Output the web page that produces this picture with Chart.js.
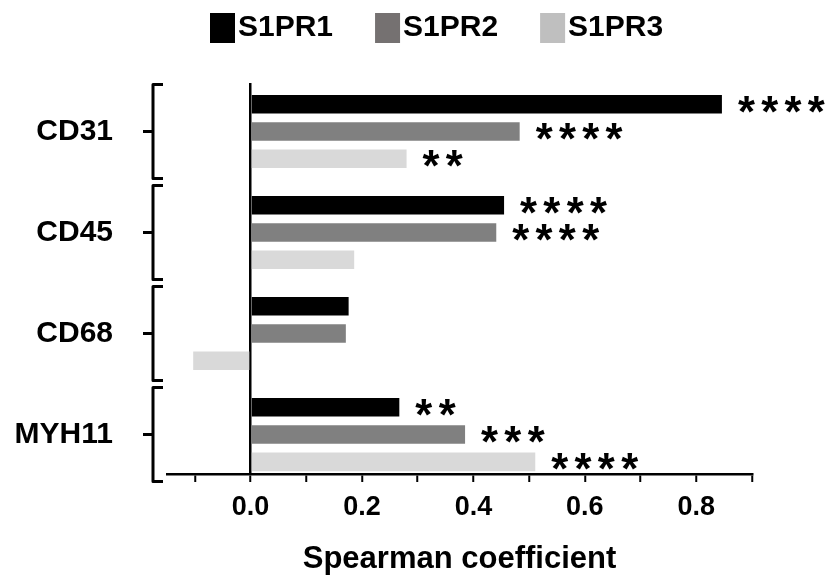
<!DOCTYPE html>
<html lang="en">
<head>
    <meta charset="UTF-8">
    <title>S1PR Spearman coefficients</title>
    <style>
        body { margin: 0; background: #fff; }
        #wrap { width: 826px; height: 578px; position: relative; }
    </style>
</head>
<body>
    <div id="wrap"><canvas id="barChart"></canvas></div>

    <script src="https://cdn.jsdelivr.net/npm/chart.js"></script>
    <script>
        const categories = ['CD31', 'CD45', 'CD68', 'MYH11'];
        const seriesNames = ['S1PR1', 'S1PR2', 'S1PR3'];
        const s1pr1 = [0.846, 0.455, 0.176, 0.267];
        const s1pr2 = [0.483, 0.441, 0.171, 0.385];
        const s1pr3 = [0.280, 0.186, -0.103, 0.511];
        // significance stars shown after each bar
        const stars1 = [4, 4, 0, 2];
        const stars2 = [4, 4, 0, 3];
        const stars3 = [2, 0, 0, 4];
        const xTicks = [-0.1, 0, 0.1, 0.2, 0.3, 0.4, 0.5, 0.6, 0.7, 0.8, 0.9];

        const barColors = ['#000000', '#808080', '#d9d9d9'];
        const legendColors = ['#000000', '#757171', '#bfbfbf'];
        const FONT = "'Liberation Sans', Arial, sans-serif";
        Chart.defaults.font.family = FONT;
        Chart.defaults.color = '#000';

        const values = [s1pr1, s1pr2, s1pr3];
        const stars = [stars1, stars2, stars3];

        const datasets = seriesNames.map((name, d) => ({
            label: name,
            data: values[d].map((v, i) => ({ x: v, y: i })),
            backgroundColor: barColors[d],
            borderWidth: 0,
            categoryPercentage: 0.81,
            barPercentage: 0.68
        }));

        // legend row at the top
        const legendRow = {
            id: 'legendRow',
            afterDraw(chart) {
                const ctx = chart.ctx;
                ctx.save();
                ctx.font = 'bold 30px ' + FONT;
                ctx.textBaseline = 'middle';
                ctx.textAlign = 'left';
                let x = 210;
                seriesNames.forEach((name, d) => {
                    ctx.fillStyle = legendColors[d];
                    ctx.fillRect(x, 13, 25, 30);
                    ctx.fillStyle = '#000';
                    ctx.fillText(name, x + 28, 28);
                    x += 28 + ctx.measureText(name).width + 42;
                });
                ctx.restore();
            }
        };

        // asterisks after the bars
        const starLabels = {
            id: 'starLabels',
            afterDatasetsDraw(chart) {
                const ctx = chart.ctx;
                ctx.save();
                ctx.font = 'bold 100px ' + FONT;
                const m0 = ctx.measureText('*');
                const size = 17 * 100 / (m0.actualBoundingBoxLeft + m0.actualBoundingBoxRight);
                ctx.font = 'bold ' + size.toFixed(1) + 'px ' + FONT;
                const m = ctx.measureText('*');
                const shift = (m.actualBoundingBoxAscent - m.actualBoundingBoxDescent) / 2;
                ctx.fillStyle = '#000';
                ctx.textAlign = 'left';
                ctx.textBaseline = 'alphabetic';
                chart.data.datasets.forEach((ds, d) => {
                    chart.getDatasetMeta(d).data.forEach((bar, i) => {
                        for (let k = 0; k < stars[d][i]; k++) {
                            const gx = bar.x + 16 + k * 23.3 + m.actualBoundingBoxLeft;
                            ctx.fillText('*', gx, bar.y + shift);
                        }
                    });
                });
                ctx.restore();
            }
        };

        // curly brackets left of each group
        const brackets = {
            id: 'brackets',
            afterDraw(chart) {
                const ctx = chart.ctx;
                const ys = chart.scales.y;
                const x0 = chart.chartArea.left - 14;
                ctx.save();
                ctx.strokeStyle = '#000';
                ctx.lineWidth = 3;
                ctx.lineJoin = 'round';
                categories.forEach((c, i) => {
                    const cy = ys.getPixelForValue(i);
                    ctx.beginPath();
                    ctx.moveTo(x0 + 10, cy - 47);
                    ctx.lineTo(x0, cy - 47);
                    ctx.lineTo(x0, cy + 47);
                    ctx.lineTo(x0 + 10, cy + 47);
                    ctx.moveTo(x0 - 10, cy);
                    ctx.lineTo(x0, cy);
                    ctx.stroke();
                });
                ctx.restore();
            }
        };

        const ctx = document.getElementById('barChart').getContext('2d');
        const barChart = new Chart(ctx, {
            type: 'bar',
            data: { datasets: datasets },
            options: {
                indexAxis: 'y',
                responsive: true,
                maintainAspectRatio: false,
                animation: false,
                layout: { padding: { top: 83, right: 74, bottom: 0, left: 0 } },
                plugins: {
                    legend: { display: false },
                    tooltip: { enabled: false }
                },
                scales: {
                    x: {
                        type: 'linear',
                        min: -0.15,
                        max: 0.9,
                        z: 1,
                        afterBuildTicks: s => { s.ticks = xTicks.map(v => ({ value: v })); },
                        afterFit: s => { s.height = 104; },
                        grid: {
                            color: c => (c.tick && c.tick.value === 0) ? '#000' : 'rgba(0,0,0,0)',
                            lineWidth: 2.5,
                            tickColor: '#000',
                            tickWidth: 2,
                            tickLength: 8
                        },
                        border: { color: '#000', width: 2.5 },
                        ticks: {
                            autoSkip: false,
                            maxRotation: 0,
                            padding: 9,
                            font: { size: 27, weight: 'bold' },
                            callback: v => (v >= 0 && Math.round(v * 10) % 2 === 0) ? v.toFixed(1) : ''
                        },
                        title: {
                            display: true,
                            text: 'Spearman coefficient',
                            font: { size: 31, weight: 'bold' },
                            padding: { top: 4, bottom: 0 }
                        }
                    },
                    y: {
                        type: 'linear',
                        reverse: true,
                        offset: false,
                        min: -0.48,
                        max: 3.39,
                        afterBuildTicks: s => { s.ticks = categories.map((c, i) => ({ value: i })); },
                        afterFit: s => { s.width = 167; },
                        grid: { display: false },
                        border: { display: false },
                        ticks: {
                            padding: 46,
                            font: { size: 30, weight: 'bold' },
                            callback: v => categories[v]
                        }
                    }
                }
            },
            plugins: [legendRow, starLabels, brackets]
        });
    </script>
</body>
</html>
